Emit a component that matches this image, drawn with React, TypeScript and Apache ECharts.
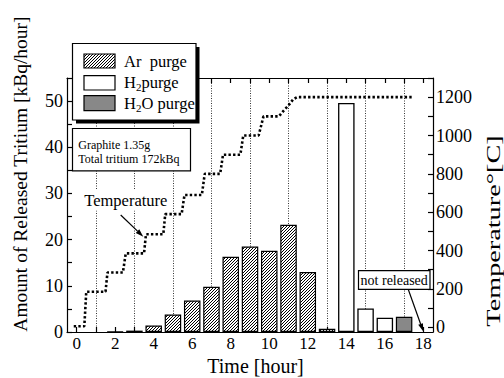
import React, { useEffect, useRef } from 'react';
import * as echarts from 'echarts';

// ---------- data ----------
const arHours = [2, 3, 4, 5, 6, 7, 8, 9, 10, 11, 12, 13];
const arValues = [0.1, 0.3, 1.4, 3.8, 6.8, 9.8, 16.3, 18.5, 17.6, 23.2, 13.0, 0.7];
const h2Hours = [14, 15, 16];
const h2Values = [49.6, 5.1, 3.1];
const h2oHours = [17];
const h2oValues = [3.3];
const tempHours = [-0.15, 0.4, 0.5, 1.5, 1.6, 2.4, 2.55, 3.5, 3.6, 4.5, 4.6, 5.45, 5.6, 6.5, 6.65, 7.45, 7.6, 8.5, 8.65, 9.45, 9.7, 10.5, 10.75, 11.0, 11.25, 11.45, 17.5];
const tempValues = [5, 5, 185, 185, 285, 285, 385, 385, 485, 485, 590, 590, 690, 690, 800, 800, 900, 900, 1000, 1000, 1100, 1100, 1130, 1157, 1190, 1200, 1200];
const xLabels = [0, 2, 4, 6, 8, 10, 12, 14, 16, 18];
const xTicks = [0, 1, 2, 3, 4, 5, 6, 7, 8, 9, 10, 11, 12, 13, 14, 15, 16, 17, 18];
const gridHours = [1, 3, 5, 7, 9, 11, 13, 15, 17];
const leftLabels = [0, 10, 20, 30, 40, 50];
const leftTicks = [0, 5, 10, 15, 20, 25, 30, 35, 40, 45, 50, 55];
const rightLabels = [0, 200, 400, 600, 800, 1000, 1200];
const rightTicks = [0, 100, 200, 300, 400, 500, 600, 700, 800, 900, 1000, 1100, 1200, 1300];

const FONT = '"Liberation Serif", "Times New Roman", Times, serif';

function makeHatch() {
  const s = 6;
  const c = document.createElement('canvas');
  c.width = s;
  c.height = s;
  const ctx = c.getContext('2d')!;
  ctx.fillStyle = '#fff';
  ctx.fillRect(0, 0, s, s);
  ctx.strokeStyle = '#000';
  ctx.lineWidth = 1;
  ctx.beginPath();
  for (const k of [0, 3, 6, 9, 12]) {
    ctx.moveTo(k + 1, -1);
    ctx.lineTo(k - s - 1, s + 1);
  }
  ctx.stroke();
  return { image: c, repeat: 'repeat', imageWidth: s, imageHeight: s };
}

function arrow(x1: number, y1: number, x2: number, y2: number, len = 8, half = 2.5) {
  const dx = x2 - x1;
  const dy = y2 - y1;
  const L = Math.sqrt(dx * dx + dy * dy);
  const ux = dx / L;
  const uy = dy / L;
  const bx = x2 - ux * len;
  const by = y2 - uy * len;
  const nx = -uy;
  const ny = ux;
  return [
    { type: 'line', z: 100, shape: { x1, y1, x2: bx, y2: by }, style: { stroke: '#000', lineWidth: 1.2 } },
    {
      type: 'polygon', z: 100,
      shape: { points: [[x2, y2], [bx + nx * half, by + ny * half], [bx - nx * half, by - ny * half]] },
      style: { fill: '#000' },
    },
  ];
}

export default function App() {
  const ref = useRef<HTMLDivElement>(null);
  useEffect(() => {
    if (!ref.current) return;
    const chart = echarts.init(ref.current, undefined, { renderer: 'svg' });
    const hatch = makeHatch();
    const axisLine = { show: true, onZero: false, lineStyle: { color: '#000', width: 1.2 } };
    const tickStyle = { color: '#000', width: 1.2 };
    const labelStyle = { color: '#000', fontSize: 17, fontFamily: FONT, formatter: (v: number) => String(v) };
    const legendText = (t: string, y: number) => ({
      type: 'text', z: 102, x: 124, y,
      style: {
        text: t, font: `16.5px ${FONT}`, fill: '#000', verticalAlign: 'middle', align: 'left',
        rich: {
          n: { fontSize: 16.5, fontFamily: FONT, fill: '#000' },
          s: { fontSize: 11, fontFamily: FONT, fill: '#000', padding: [9, 0, 0, 0] },
        },
      },
    });

    const option: any = {
      animation: false,
      textStyle: { fontFamily: FONT, color: '#000' },
      grid: { left: 67, right: 71, top: 78, bottom: 46, outerBoundsMode: 'none' },
      xAxis: [
        {
          type: 'value', position: 'bottom', min: -0.5, max: 18.5,
          axisLine,
          axisTick: { show: true, inside: true, length: 5, customValues: xTicks, lineStyle: tickStyle },
          axisLabel: { ...labelStyle, margin: 3, customValues: xLabels },
          splitLine: { show: false },
        },
        {
          type: 'value', position: 'top', min: -0.5, max: 18.5,
          axisLine,
          axisTick: { show: true, inside: true, length: 5, customValues: xTicks, lineStyle: tickStyle },
          axisLabel: { show: false },
          splitLine: { show: false },
        },
        {
          type: 'value', position: 'bottom', min: -0.5, max: 18.5,
          axisLine: { show: false },
          axisTick: { show: false, customValues: gridHours },
          axisLabel: { show: false },
          splitLine: { show: true, lineStyle: { color: '#000', width: 0.8, type: [1, 1.5] } },
        },
      ],
      yAxis: [
        {
          type: 'value', position: 'left', min: 0, max: 55,
          axisLine,
          axisTick: { show: true, inside: true, length: 5, customValues: leftTicks, lineStyle: tickStyle },
          axisLabel: { ...labelStyle, fontSize: 18, margin: 4, customValues: leftLabels },
          splitLine: { show: false },
        },
        {
          type: 'value', position: 'right', min: -25, max: 1300,
          axisLine,
          axisTick: { show: true, inside: true, length: 5, customValues: rightTicks, lineStyle: tickStyle },
          axisLabel: { ...labelStyle, fontSize: 18, margin: 3, customValues: rightLabels },
          splitLine: { show: false },
        },
      ],
      series: [
        {
          type: 'bar', name: 'Ar purge', xAxisIndex: 0, yAxisIndex: 0, stack: 'p', barWidth: 16.5, z: 3,
          data: arHours.map((h, i) => [h, arValues[i]]),
          itemStyle: { color: hatch, borderColor: '#000', borderWidth: 1.2 },
        },
        {
          type: 'bar', name: 'H2 purge', xAxisIndex: 0, yAxisIndex: 0, stack: 'p', barWidth: 16.5, z: 3,
          data: h2Hours.map((h, i) => [h, h2Values[i]]),
          itemStyle: { color: '#fff', borderColor: '#000', borderWidth: 1.3 },
        },
        {
          type: 'bar', name: 'H2O purge', xAxisIndex: 0, yAxisIndex: 0, stack: 'p', barWidth: 16.5, z: 3,
          data: h2oHours.map((h, i) => [h, h2oValues[i]]),
          itemStyle: { color: '#888', borderColor: '#000', borderWidth: 1.2 },
        },
        {
          type: 'line', name: 'Temperature', xAxisIndex: 0, yAxisIndex: 1, z: 4,
          symbol: 'none',
          data: tempHours.map((h, i) => [h, tempValues[i]]),
          lineStyle: { color: '#000', width: 2.6, type: [2.4, 2.2], cap: 'butt' },
        },
      ],
      graphic: [
        // axis titles
        {
          type: 'text', z: 100, x: 20, y: 174, rotation: Math.PI / 2,
          style: { text: 'Amount of Released Tritium [kBq/hour]', font: `19.5px ${FONT}`, fill: '#000', align: 'center', verticalAlign: 'middle' },
        },
        {
          type: 'text', z: 100, x: 493, y: 231, rotation: Math.PI / 2, scaleX: 1.45,
          style: { text: 'Temperature°[C]', font: `19.5px ${FONT}`, fill: '#000', align: 'center', verticalAlign: 'middle' },
        },
        {
          type: 'text', z: 100, x: 255.5, y: 366,
          style: { text: 'Time [hour]', font: `20px ${FONT}`, fill: '#000', align: 'center', verticalAlign: 'middle' },
        },
        // legend
        { type: 'rect', z: 100, shape: { x: 76, y: 47, width: 123.5, height: 76.5 }, style: { fill: '#000' } },
        { type: 'rect', z: 101, shape: { x: 72.5, y: 43.5, width: 123.5, height: 76.5 }, style: { fill: '#fff', stroke: '#000', lineWidth: 1.2 } },
        { type: 'rect', z: 102, shape: { x: 84, y: 54, width: 31, height: 14 }, style: { fill: hatch, stroke: '#000', lineWidth: 1.2 } },
        { type: 'rect', z: 102, shape: { x: 84, y: 75.7, width: 31, height: 14.3 }, style: { fill: '#fff', stroke: '#000', lineWidth: 1.2 } },
        { type: 'rect', z: 102, shape: { x: 84, y: 95.7, width: 31, height: 15 }, style: { fill: '#888', stroke: '#000', lineWidth: 1.2 } },
        legendText('{n|Ar  purge}', 61),
        legendText('{n|H}{s|2}{n|purge}', 82.5),
        legendText('{n|H}{s|2}{n|O purge}', 103),
        // sample box
        { type: 'rect', z: 100, shape: { x: 72.5, y: 128.5, width: 118, height: 42.3 }, style: { fill: '#fff', stroke: '#000', lineWidth: 1.2 } },
        { type: 'text', z: 101, x: 78.3, y: 145, style: { text: 'Graphite 1.35g', font: `12px ${FONT}`, fill: '#000', verticalAlign: 'middle' } },
        { type: 'text', z: 101, x: 78.3, y: 158.5, style: { text: 'Total tritium 172kBq', font: `12px ${FONT}`, fill: '#000', verticalAlign: 'middle' } },
        // temperature label
        {
          type: 'text', z: 100, x: 125.8, y: 200,
          style: { text: 'Temperature', font: `16.5px ${FONT}`, fill: '#000', align: 'center', verticalAlign: 'middle', backgroundColor: '#fff', padding: [2, 2] },
        },
        ...arrow(120.7, 215, 143.3, 236.7),
        // not released
        { type: 'rect', z: 100, shape: { x: 358.5, y: 270.7, width: 71.5, height: 18.6 }, style: { fill: '#fff', stroke: '#000', lineWidth: 1.2 } },
        { type: 'text', z: 101, x: 394.2, y: 280, style: { text: 'not released', font: `14px ${FONT}`, fill: '#000', align: 'center', verticalAlign: 'middle' } },
        ...arrow(408.3, 289.5, 423.3, 331.5),
      ],
    };
    chart.setOption(option);
    return () => chart.dispose();
  }, []);
  return <div ref={ref} style={{ position: 'fixed', left: 0, top: 0, width: 504, height: 378, background: '#fff' }} />;
}
